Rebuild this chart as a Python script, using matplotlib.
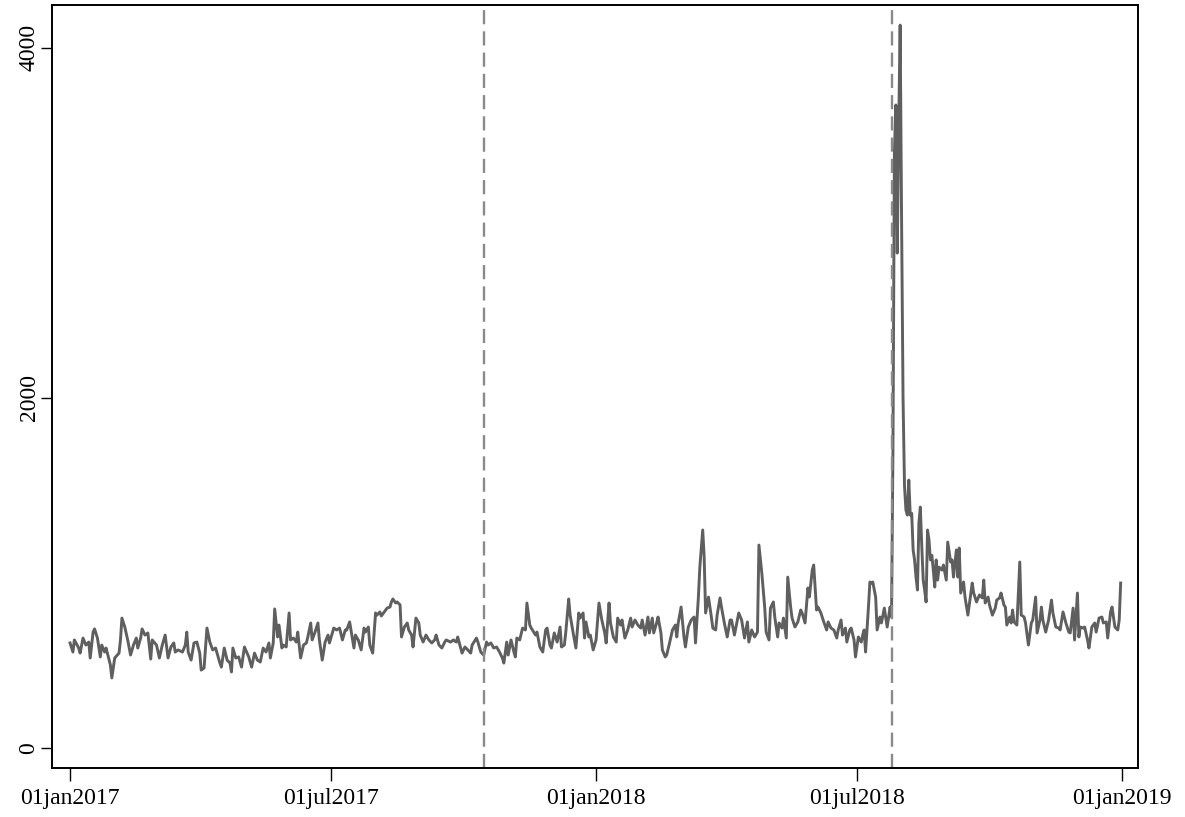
"""Daily series 2017-2018 with two event markers (Stata-like look)."""

import matplotlib
matplotlib.use("Agg")
import matplotlib.pyplot as plt
import pandas as pd

START = "2017-01-01"

# days since 01jan2017
day_offset = [
    0, 2, 3, 6, 7, 9, 11, 13, 14, 16, 17, 19, 21, 22, 24, 25, 28, 29, 31, 34,
    35, 36, 38, 40, 42, 44, 46, 47, 49, 50, 52, 54, 56, 57, 60, 62, 64, 66, 68, 70,
    72, 73, 75, 78, 80, 81, 82, 84, 86, 88, 90, 91, 93, 95, 97, 99, 101, 104, 105, 107,
    109, 111, 112, 113, 115, 117, 119, 121, 124, 126, 128, 130, 132, 134, 136, 138, 139, 141, 142, 144,
    145, 147, 148, 150, 152, 153, 155, 157, 158, 160, 162, 164, 165, 167, 168, 170, 172, 173, 175, 177,
    179, 180, 183, 185, 187, 189, 191, 192, 194, 197, 198, 200, 202, 204, 205, 207, 208, 210, 212, 213,
    215, 216, 218, 220, 222, 223, 224, 226, 227, 229, 230, 232, 234, 235, 237, 238, 240, 242, 243, 245,
    247, 249, 251, 253, 254, 256, 258, 260, 261, 264, 266, 268, 269, 271, 272, 274, 276, 278, 279, 282,
    283, 285, 287, 289, 290, 292, 294, 296, 298, 300, 301, 303, 304, 306, 308, 309, 310, 312, 314, 316,
    317, 319, 320, 323, 324, 326, 328, 330, 331, 333, 334, 336, 338, 340, 341, 343, 344, 346, 347, 349,
    351, 353, 354, 356, 357, 358, 360, 361, 363, 365, 367, 369, 371, 372, 374, 375, 377, 379, 380, 382,
    383, 385, 387, 389, 390, 392, 394, 396, 397, 399, 401, 402, 404, 405, 407, 408, 410, 411, 413, 414,
    416, 418, 420, 421, 422, 424, 426, 427, 429, 431, 433, 434, 436, 437, 439, 440, 441, 443, 445, 446,
    448, 449, 451, 452, 454, 456, 458, 459, 461, 463, 464, 466, 468, 470, 471, 473, 475, 477, 478, 480,
    482, 483, 485, 486, 488, 489, 491, 492, 494, 495, 497, 498, 500, 501, 503, 505, 507, 508, 510, 512,
    513, 515, 516, 518, 519, 521, 523, 525, 526, 528, 530, 532, 533, 535, 536, 538, 539, 541, 542, 544,
    545, 547, 549, 550, 551, 552, 554, 555, 556, 557, 559, 560, 562, 563, 565, 567, 569, 570, 571, 572,
    573, 574, 575, 576, 577, 578, 579, 580, 581, 582, 583, 584, 585, 586, 587, 588, 589, 590, 591, 592,
    593, 594, 595, 596, 597, 598, 599, 600, 601, 602, 603, 605, 606, 608, 609, 611, 612, 613, 615, 616,
    617, 618, 620, 621, 623, 626, 627, 629, 631, 633, 634, 635, 637, 638, 640, 642, 643, 645, 646, 648,
    649, 650, 652, 653, 654, 655, 657, 659, 660, 662, 663, 665, 667, 668, 670, 671, 673, 674, 675, 677,
    679, 681, 682, 684, 686, 687, 689, 691, 693, 694, 696, 697, 699, 700, 701, 703, 704, 706, 707, 709,
    711, 712, 714, 716, 717, 719, 720, 722, 723, 725, 727, 728, 729,
]

value = [
    600, 548, 617, 571, 542, 628, 588, 605, 514, 662, 680, 628, 520, 588, 548, 571, 474, 400, 514, 542,
    617, 742, 691, 617, 531, 588, 628, 571, 628, 680, 645, 657, 508, 617, 588, 514, 588, 645, 514, 577,
    600, 548, 560, 548, 588, 662, 548, 502, 600, 605, 542, 445, 457, 685, 605, 560, 571, 485, 462, 571,
    502, 485, 434, 571, 514, 520, 462, 577, 520, 462, 542, 502, 491, 571, 548, 600, 514, 600, 794, 634,
    702, 571, 588, 577, 771, 617, 628, 605, 662, 514, 588, 600, 634, 714, 617, 662, 714, 617, 502, 605,
    645, 600, 685, 674, 685, 617, 674, 674, 720, 571, 645, 617, 560, 685, 662, 691, 588, 542, 771, 759,
    777, 754, 777, 799, 805, 834, 851, 828, 834, 817, 634, 691, 714, 674, 645, 577, 742, 714, 645, 605,
    645, 617, 600, 617, 645, 588, 571, 605, 617, 605, 617, 605, 634, 571, 542, 577, 560, 542, 588, 628,
    605, 548, 531, 605, 588, 600, 571, 577, 548, 514, 485, 605, 531, 617, 548, 520, 628, 617, 685, 674,
    828, 702, 685, 645, 662, 577, 548, 674, 685, 588, 571, 657, 605, 691, 577, 588, 662, 851, 759, 662,
    571, 771, 742, 771, 628, 720, 634, 645, 560, 617, 828, 731, 657, 600, 828, 714, 634, 605, 742, 702,
    731, 628, 674, 742, 691, 731, 702, 685, 731, 645, 748, 657, 742, 657, 714, 748, 657, 560, 520, 531,
    600, 674, 702, 634, 714, 805, 634, 577, 691, 731, 748, 600, 862, 1033, 1245, 1091, 771, 862, 748, 685,
    674, 759, 857, 805, 714, 634, 731, 731, 645, 731, 771, 731, 628, 720, 605, 674, 634, 662, 1159, 999,
    805, 662, 617, 799, 834, 748, 634, 714, 685, 742, 628, 976, 805, 742, 691, 720, 788, 771, 714, 914,
    862, 1016, 1045, 788, 805, 771, 720, 674, 720, 685, 674, 628, 674, 731, 645, 685, 605, 674, 685, 617,
    520, 634, 605, 645, 674, 548, 805, 948, 942, 948, 862, 674, 748, 714, 799, 691, 805, 748, 1700, 3400,
    3672, 2826, 3550, 4128, 3000, 2000, 1500, 1359, 1330, 1530, 1330, 1340, 1131, 1074, 976, 902, 1285, 1376, 1150, 959,
    902, 834, 1245, 1188, 1074, 1100, 1016, 919, 1074, 959, 1033, 1016, 1045, 959, 1176, 1062, 1074, 976, 1131, 976,
    1142, 885, 948, 862, 759, 942, 885, 834, 874, 857, 959, 828, 862, 817, 759, 799, 845, 857, 885, 817,
    805, 702, 748, 714, 788, 720, 702, 1062, 759, 748, 714, 588, 714, 731, 862, 657, 731, 805, 731, 662,
    731, 845, 771, 691, 685, 674, 777, 714, 662, 657, 799, 617, 885, 634, 691, 685, 691, 617, 571, 691,
    714, 662, 742, 748, 714, 720, 628, 777, 805, 691, 674, 731, 942,
]

event_dates = ["2017-10-15", "2018-07-25"]
tick_dates = ["2017-01-01", "2017-07-01", "2018-01-01", "2018-07-01", "2019-01-01"]
y_ticks = [0, 2000, 4000]

dates = pd.Timestamp(START) + pd.to_timedelta(day_offset, unit="D")

plt.rcParams["font.family"] = ["Liberation Serif", "DejaVu Serif"]

fig = plt.figure(figsize=(11.85, 8.17), dpi=100)
ax = fig.add_axes([0.0439, 0.060, 0.9164, 0.9333])

ax.plot(dates, value, color="#5f5f5f", linewidth=2.1, solid_joinstyle="round")

for d in event_dates:
    ax.axvline(pd.Timestamp(d), color="#8a8a8a", linewidth=1.7, dashes=(6, 3))

ax.set_ylim(-114, 4240)
ax.set_xlim(pd.Timestamp(START) - pd.Timedelta(days=12.5),
            pd.Timestamp("2019-01-01") + pd.Timedelta(days=11))

ticks = pd.to_datetime(tick_dates)
ax.set_xticks(ticks)
ax.set_xticklabels([t.strftime("%d%b%Y").lower() for t in ticks])
ax.set_yticks(y_ticks)
ax.set_yticklabels([str(v) for v in y_ticks], rotation=90, va="center")

ax.tick_params(direction="out", width=1, color="black", labelsize=17)
ax.tick_params(axis="x", length=9.5, pad=5)
ax.tick_params(axis="y", length=8, pad=1)
for s in ax.spines.values():
    s.set_linewidth(1.4)
    s.set_color("black")

fig.savefig("out.png", dpi=100, facecolor="white")
